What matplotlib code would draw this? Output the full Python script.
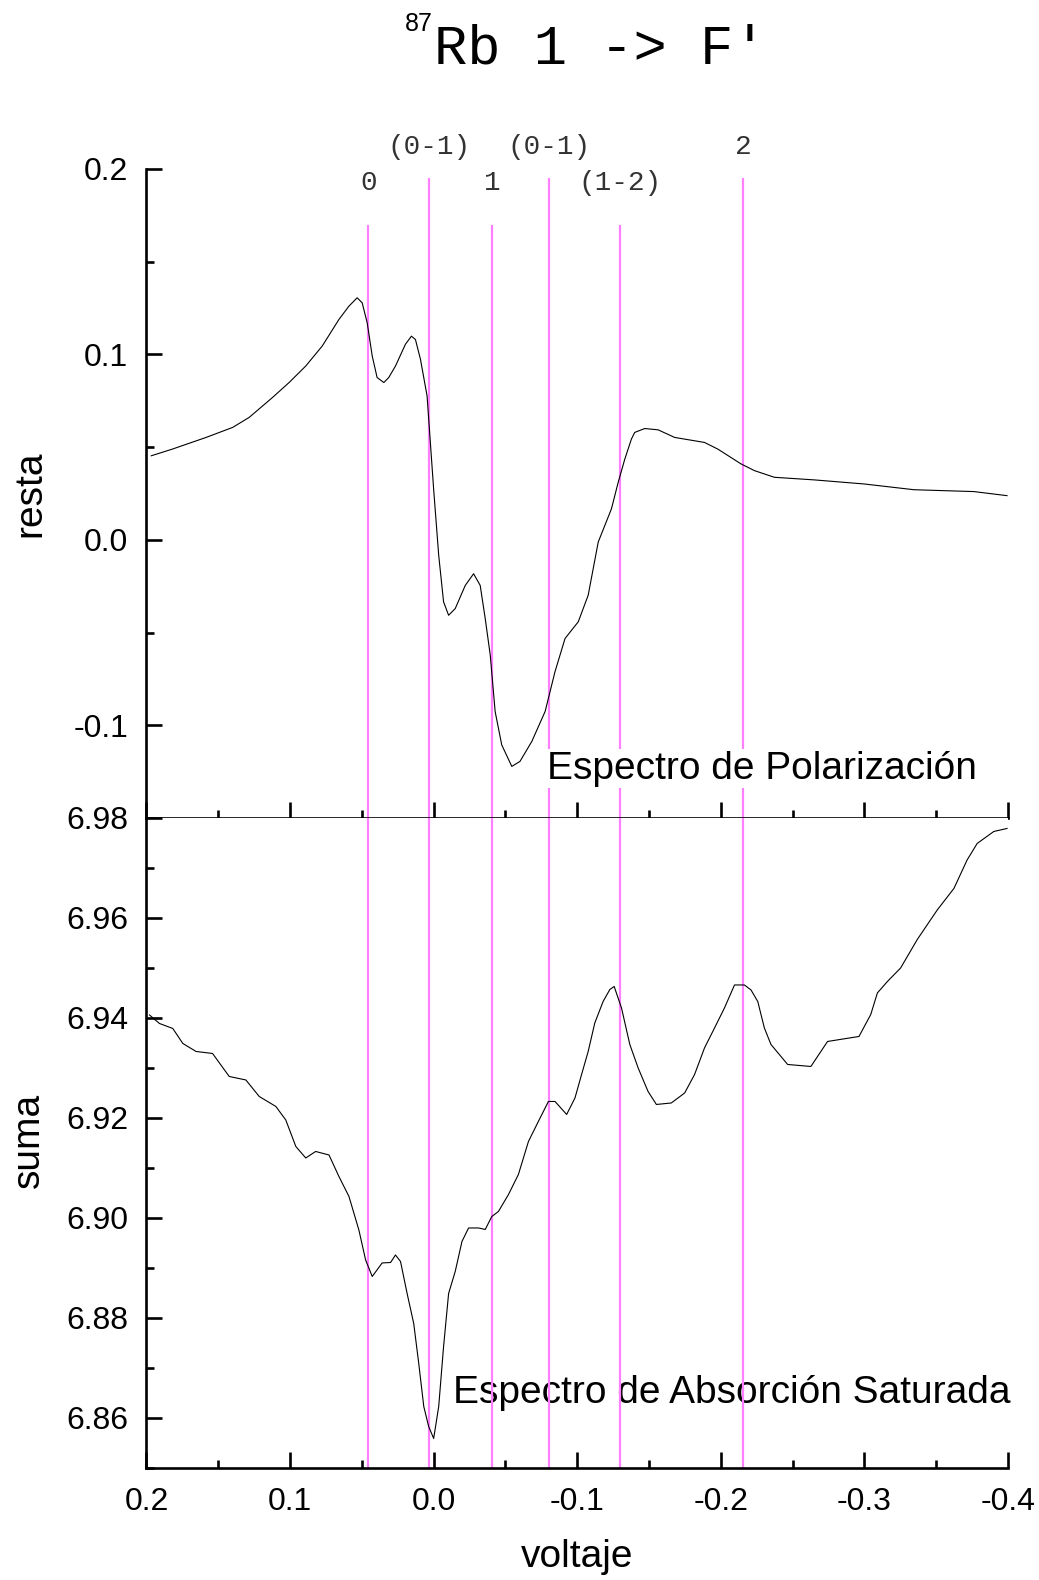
import matplotlib
matplotlib.use("Agg")
import matplotlib.pyplot as plt
from matplotlib.ticker import MultipleLocator, FuncFormatter

plt.rcParams['font.family'] = ['Liberation Sans', 'DejaVu Sans']
plt.rcParams['axes.unicode_minus'] = False

# señal diferencia (espectro de polarización)
resta_v = [0.1967, 0.182, 0.1585, 0.140, 0.1285, 0.1123, 0.1007, 0.0891, 0.0776, 0.066,
           0.059, 0.0533, 0.0498, 0.0463, 0.0428, 0.0394, 0.0347, 0.0313, 0.0266, 0.0197,
           0.0155, 0.0127, 0.0092, 0.0046, 0.0, -0.0035, -0.0069, -0.0104, -0.015, -0.022,
           -0.0278, -0.0324, -0.0359, -0.0394, -0.0428, -0.0474, -0.0544, -0.0601, -0.0683, -0.0776,
           -0.0845, -0.0915, -0.1007, -0.1076, -0.1146, -0.1238, -0.1285, -0.1331, -0.1377, -0.14,
           -0.147, -0.1563, -0.1678, -0.1886, -0.1979, -0.2141, -0.2234, -0.2373, -0.2651, -0.2998,
           -0.3345, -0.3762, -0.3993]
resta = [0.0453, 0.0489, 0.0552, 0.0606, 0.066, 0.0767, 0.0848, 0.0937, 0.1045, 0.1188,
         0.126, 0.1305, 0.1278, 0.117, 0.0991, 0.0875, 0.0848, 0.0875, 0.0937, 0.1054,
         0.1098, 0.108, 0.0973, 0.0776, 0.027, -0.0084, -0.0335, -0.0407, -0.0371, -0.0246,
         -0.0183, -0.0246, -0.0425, -0.0622, -0.0926, -0.1106, -0.1222, -0.1195, -0.1088, -0.0926,
         -0.0711, -0.0532, -0.0442, -0.0299, -0.0012, 0.0167, 0.031, 0.0435, 0.0543, 0.0579,
         0.06, 0.0593, 0.0552, 0.0525, 0.0489, 0.0409, 0.0373, 0.0337, 0.0323, 0.0301,
         0.027, 0.026, 0.0238]

# señal suma (absorción saturada)
suma_v = [0.1979, 0.191, 0.1817, 0.1747, 0.1655, 0.154, 0.1424, 0.1308, 0.1215, 0.1099,
          0.103, 0.096, 0.0891, 0.0822, 0.0729, 0.066, 0.059, 0.0521, 0.0474, 0.0428,
          0.0359, 0.03, 0.0266, 0.0231, 0.0185, 0.0139, 0.0104, 0.0069, 0.0035, 0.0,
          -0.0035, -0.0069, -0.0104, -0.015, -0.0197, -0.0243, -0.0313, -0.0359, -0.0405, -0.0451,
          -0.0521, -0.059, -0.066, -0.0729, -0.0799, -0.0845, -0.0926, -0.0984, -0.103, -0.1076,
          -0.1122, -0.118, -0.1227, -0.1257, -0.1308, -0.1366, -0.1424, -0.1493, -0.1551, -0.1655,
          -0.1748, -0.1817, -0.1886, -0.1956, -0.2025, -0.2095, -0.2164, -0.221, -0.2257, -0.2303,
          -0.2349, -0.2465, -0.2627, -0.2743, -0.2962, -0.3044, -0.309, -0.316, -0.3252, -0.3368,
          -0.3507, -0.3623, -0.3715, -0.3785, -0.3901, -0.3993]
suma = [6.9406, 6.9389, 6.9379, 6.9349, 6.9333, 6.9329, 6.9283, 6.9276, 6.9243, 6.9223,
        6.9196, 6.9143, 6.912, 6.9133, 6.9126, 6.9083, 6.9043, 6.8976, 6.8916, 6.8883,
        6.891, 6.8911, 6.8926, 6.8913, 6.8849, 6.8789, 6.8709, 6.8623, 6.8583, 6.8559,
        6.8623, 6.8743, 6.8849, 6.8893, 6.8953, 6.898, 6.898, 6.8977, 6.9003, 6.9013,
        6.9047, 6.9087, 6.9153, 6.9193, 6.9233, 6.9233, 6.9207, 6.924, 6.9287, 6.9333,
        6.939, 6.9433, 6.9457, 6.9463, 6.942, 6.9347, 6.93, 6.9253, 6.9227, 6.923,
        6.925, 6.9287, 6.934, 6.938, 6.942, 6.9466, 6.9466, 6.9456, 6.9433, 6.938,
        6.9347, 6.9307, 6.9303, 6.9353, 6.9363, 6.9407, 6.945, 6.9473, 6.95, 6.9557,
        6.9616, 6.9659, 6.9716, 6.9749, 6.9773, 6.9779]

# transiciones marcadas
trans_v = [0.0455, 0.003, -0.0405, -0.0805, -0.130, -0.2155]
trans_lbl = ['0', '(0-1)', '1', '(0-1)', '(1-2)', '2']
trans_alto = [False, True, False, True, False, True]

ROSA = '#ff80ff'
MONO = 'Liberation Mono'

fig = plt.figure(figsize=(10.39, 15.80), dpi=100)
ax1 = fig.add_axes([0.141, 0.4823, 0.8292, 0.4108])
ax2 = fig.add_axes([0.141, 0.0709, 0.8292, 0.4114])

fmt1 = FuncFormatter(lambda v, p: '%.1f' % (0.0 if abs(v) < 1e-9 else v))
fmt2 = FuncFormatter(lambda v, p: '%.2f' % v)

for ax in (ax1, ax2):
    ax.set_xlim(0.2, -0.4)
    for s in ('top', 'right'):
        ax.spines[s].set_visible(False)
    for s in ('left', 'bottom'):
        ax.spines[s].set_linewidth(1.9)
    ax.xaxis.set_major_locator(MultipleLocator(0.1))
    ax.xaxis.set_minor_locator(MultipleLocator(0.05))
    ax.tick_params(which='both', direction='in', width=1.9, labelsize=23)
    ax.tick_params(which='major', length=11.5)
    ax.tick_params(which='minor', length=6)
    ax.tick_params(axis='y', pad=13)
    ax.tick_params(axis='x', pad=14)

ax1.set_ylim(-0.15, 0.2)
ax1.yaxis.set_major_locator(MultipleLocator(0.1))
ax1.yaxis.set_minor_locator(MultipleLocator(0.05))
ax1.yaxis.set_major_formatter(fmt1)
ax1.tick_params(axis='x', labelbottom=False)

ax2.set_ylim(6.85, 6.98)
ax2.yaxis.set_major_locator(MultipleLocator(0.02))
ax2.yaxis.set_minor_locator(MultipleLocator(0.01))
ax2.yaxis.set_major_formatter(fmt2)
ax2.xaxis.set_major_formatter(fmt1)

ax1.plot(resta_v, resta, color='black', lw=0.8, zorder=2)
ax2.plot(suma_v, suma, color='black', lw=0.8, zorder=2)

for v, lbl, alto in zip(trans_v, trans_lbl, trans_alto):
    tope = 0.195 if alto else 0.170
    ax1.vlines(v, -0.15, tope, color=ROSA, lw=1.6, zorder=1.5)
    ax2.axvline(v, color=ROSA, lw=1.6, zorder=1.5)
    ax1.text(v, 0.2118 if alto else 0.1925, lbl, family=MONO, fontsize=20,
             color='#333333', ha='center', va='center', clip_on=False)

ax1.text(0.5265, 0.507, 'Espectro de Polarización', transform=fig.transFigure,
         fontsize=28, va='baseline', ha='left', zorder=5,
         bbox=dict(facecolor='white', edgecolor='none', pad=1))
ax2.text(0.436, 0.112, 'Espectro de Absorción Saturada', transform=fig.transFigure,
         fontsize=28, va='baseline', ha='left', zorder=1)

fig.text(30 / 1039, 1 - 494 / 1580, 'resta', rotation=90, fontsize=28,
         ha='center', va='center')
fig.text(29 / 1039, 1 - 1140 / 1580, 'suma', rotation=90, fontsize=28,
         ha='center', va='center')
fig.text(577 / 1039, 1 - 1557 / 1580, 'voltaje', fontsize=28,
         ha='center', va='center')

# título: isótopo como superíndice
fig.text(433 / 1039, 1 - 31 / 1580, '87', fontsize=18, ha='right', va='baseline')
fig.text(434 / 1039, 1 - 63 / 1580, "Rb 1 -> F'", family=MONO, fontsize=40,
         ha='left', va='baseline')

fig.savefig('out.png', dpi=100)
